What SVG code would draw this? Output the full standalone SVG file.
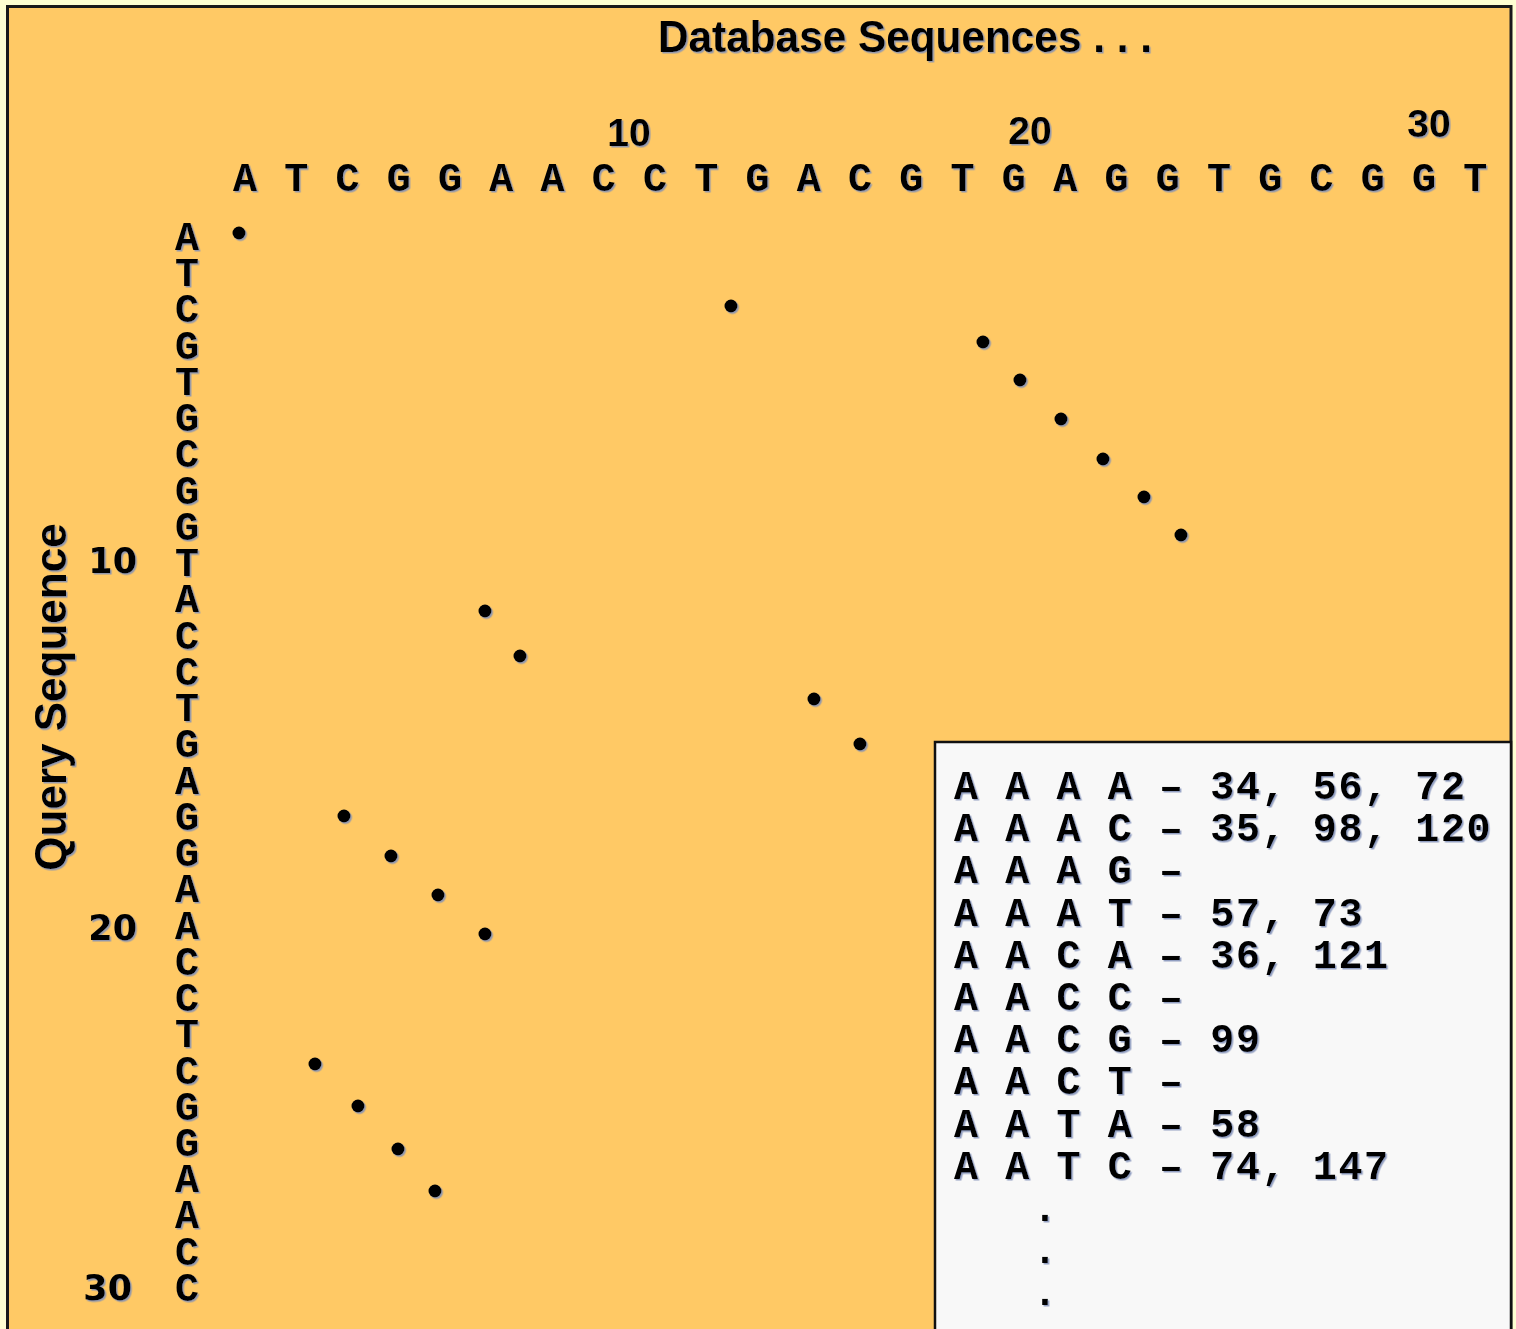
<svg xmlns="http://www.w3.org/2000/svg" width="1516" height="1329" viewBox="0 0 1516 1329">
  <defs>
    <filter id="sh" x="-20%" y="-20%" width="140%" height="140%">
      <feDropShadow dx="1.5" dy="1.5" stdDeviation="0.4" flood-color="#8090b8" flood-opacity="0.85"/>
    </filter>
  </defs>
  <style>
    .sans { font-family: "Liberation Sans", Arial, sans-serif; font-weight: bold; fill: #000; }
    .num { font-family: "DejaVu Sans", Verdana, sans-serif; font-weight: bold; fill: #000; }
    .mono { font-family: "Liberation Mono", "Courier New", monospace; font-weight: bold; fill: #000; font-size: 40px; }
    .seq { letter-spacing: 1.625px; }
    .col { text-anchor: middle; }
    .sh { filter: url(#sh); }
    .dot { fill: #000; }
  </style>

  <rect x="0" y="0" width="1516" height="1329" fill="#FFFFD2"/>
  <rect id="frame" x="7.5" y="6.5" width="1503.5" height="1340" fill="#FFC965" stroke="#1a1a1a" stroke-width="3"/>

  <g id="title" class="sh">
    <text class="sans" x="658" y="52" font-size="44" textLength="494" lengthAdjust="spacingAndGlyphs">Database Sequences . . .</text>
  </g>

  <g id="query-label" class="sh">
    <text class="sans" x="66" y="697" font-size="44" text-anchor="middle" transform="rotate(-90 66 697)">Query Sequence</text>
  </g>

  <g id="top-axis" class="sh">
    <text class="sans" x="629" y="146" font-size="39" text-anchor="middle">10</text>
    <text class="sans" x="1030" y="144" font-size="39" text-anchor="middle">20</text>
    <text class="sans" x="1429" y="137" font-size="39" text-anchor="middle">30</text>
    <text class="mono seq" x="233" y="191">A T C G G A A C C T G A C G T G A G G T G C G G T</text>
  </g>

  <g id="left-axis" class="sh">
    <text class="num" x="137" y="573" font-size="35" text-anchor="end">10</text>
    <text class="num" x="137" y="940" font-size="35" text-anchor="end">20</text>
    <text class="num" x="132" y="1300" font-size="35" text-anchor="end">30</text>
    <text class="mono col" x="187" y="250">A</text>
    <text class="mono col" x="187" y="286.24">T</text>
    <text class="mono col" x="187" y="322.48">C</text>
    <text class="mono col" x="187" y="358.72">G</text>
    <text class="mono col" x="187" y="394.96">T</text>
    <text class="mono col" x="187" y="431.2">G</text>
    <text class="mono col" x="187" y="467.44">C</text>
    <text class="mono col" x="187" y="503.68">G</text>
    <text class="mono col" x="187" y="539.92">G</text>
    <text class="mono col" x="187" y="576.16">T</text>
    <text class="mono col" x="187" y="612.4">A</text>
    <text class="mono col" x="187" y="648.64">C</text>
    <text class="mono col" x="187" y="684.88">C</text>
    <text class="mono col" x="187" y="721.12">T</text>
    <text class="mono col" x="187" y="757.36">G</text>
    <text class="mono col" x="187" y="793.6">A</text>
    <text class="mono col" x="187" y="829.84">G</text>
    <text class="mono col" x="187" y="866.08">G</text>
    <text class="mono col" x="187" y="902.32">A</text>
    <text class="mono col" x="187" y="938.56">A</text>
    <text class="mono col" x="187" y="974.8">C</text>
    <text class="mono col" x="187" y="1011.04">C</text>
    <text class="mono col" x="187" y="1047.28">T</text>
    <text class="mono col" x="187" y="1083.52">C</text>
    <text class="mono col" x="187" y="1119.76">G</text>
    <text class="mono col" x="187" y="1156">G</text>
    <text class="mono col" x="187" y="1192.24">A</text>
    <text class="mono col" x="187" y="1228.48">A</text>
    <text class="mono col" x="187" y="1264.72">C</text>
    <text class="mono col" x="187" y="1301">C</text>
  </g>

  <g id="dots" class="sh">
    <circle class="dot" cx="239" cy="233" r="6.5"/>
    <circle class="dot" cx="731" cy="306" r="6.5"/>
    <circle class="dot" cx="983" cy="342" r="6.5"/>
    <circle class="dot" cx="1020" cy="380" r="6.5"/>
    <circle class="dot" cx="1061" cy="419" r="6.5"/>
    <circle class="dot" cx="1103" cy="459" r="6.5"/>
    <circle class="dot" cx="1144" cy="497" r="6.5"/>
    <circle class="dot" cx="1181" cy="535" r="6.5"/>
    <circle class="dot" cx="485" cy="611" r="6.5"/>
    <circle class="dot" cx="520" cy="656" r="6.5"/>
    <circle class="dot" cx="814" cy="699" r="6.5"/>
    <circle class="dot" cx="860" cy="744" r="6.5"/>
    <circle class="dot" cx="344" cy="816" r="6.5"/>
    <circle class="dot" cx="391" cy="856" r="6.5"/>
    <circle class="dot" cx="438" cy="895" r="6.5"/>
    <circle class="dot" cx="485" cy="934" r="6.5"/>
    <circle class="dot" cx="315" cy="1064" r="6.5"/>
    <circle class="dot" cx="358" cy="1106" r="6.5"/>
    <circle class="dot" cx="398" cy="1149" r="6.5"/>
    <circle class="dot" cx="435" cy="1191" r="6.5"/>
  </g>

  <g id="index-table">
    <rect x="935" y="742" width="576" height="620" fill="#F8F8F8" stroke="#111" stroke-width="2.5"/>
    <g class="sh">
      <text class="mono seq" x="954" y="799">A A A A – 34, 56, 72</text>
      <text class="mono seq" x="954" y="841">A A A C – 35, 98, 120</text>
      <text class="mono seq" x="954" y="883">A A A G –</text>
      <text class="mono seq" x="954" y="926">A A A T – 57, 73</text>
      <text class="mono seq" x="954" y="968">A A C A – 36, 121</text>
      <text class="mono seq" x="954" y="1010">A A C C –</text>
      <text class="mono seq" x="954" y="1052">A A C G – 99</text>
      <text class="mono seq" x="954" y="1094">A A C T –</text>
      <text class="mono seq" x="954" y="1137">A A T A – 58</text>
      <text class="mono seq" x="954" y="1179">A A T C – 74, 147</text>
      <text class="mono col" x="1045" y="1221">.</text>
      <text class="mono col" x="1045" y="1263">.</text>
      <text class="mono col" x="1045" y="1305">.</text>
    </g>
  </g>
</svg>
